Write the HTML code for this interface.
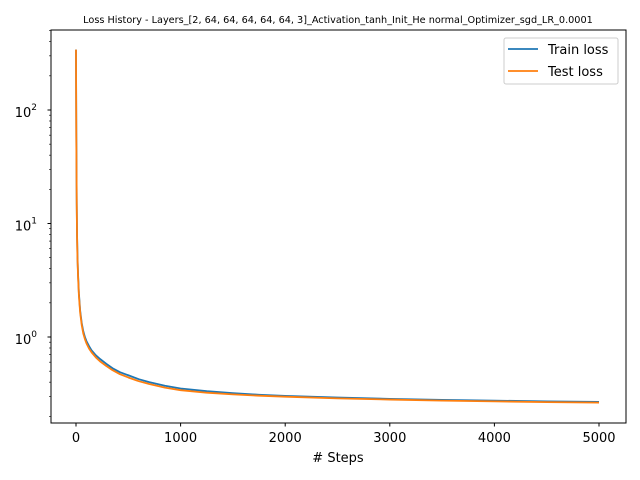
<!DOCTYPE html>
<html><head><meta charset="utf-8"><style>body{margin:0;background:#fff}svg{display:block;font-family:"DejaVu Sans","Liberation Sans",sans-serif}</style></head>
<body>
<svg id="chart" width="640" height="480" xmlns="http://www.w3.org/2000/svg">
<text x="338" y="23" font-size="9.7" text-anchor="middle">Loss History - Layers_[2, 64, 64, 64, 64, 64, 3]_Activation_tanh_Init_He normal_Optimizer_sgd_LR_0.0001</text>
<g id="plot"></g>
<rect x="51" y="30" width="575" height="393" fill="none" stroke="#000" stroke-width="1"/>
<text x="338" y="462" font-size="13" text-anchor="middle"># Steps</text>
<g>
<rect x="504" y="38" width="114" height="46" rx="2" fill="#fff" stroke="#ccc"/>
<line x1="508" y1="49" x2="538" y2="49" stroke="#1f77b4" stroke-width="1.8"/>
<text x="548" y="54" font-size="13">Train loss</text>
<line x1="508" y1="71" x2="538" y2="71" stroke="#ff7f0e" stroke-width="1.8"/>
<text x="548" y="76" font-size="13">Test loss</text>
</g>
</svg>
<script>
const steps=[0,1,2,3,5,7,10,14,20,28,40,55,70,85,100,125,150,190,230,290,350,420,500,600,700,850,1000,1250,1500,1750,2000,2500,3000,3500,4000,4500,5000];
const trainLoss=[340,180,100,60,30,15,8,5.2,3.5,2.4,1.7,1.32,1.12,1.0,0.92,0.83,0.76,0.69,0.64,0.58,0.53,0.49,0.46,0.425,0.40,0.372,0.352,0.333,0.32,0.31,0.303,0.293,0.285,0.279,0.275,0.271,0.268];
const testLoss=[340,175,98,58,29,14.5,7.7,5.0,3.35,2.3,1.63,1.27,1.07,0.96,0.88,0.79,0.73,0.66,0.61,0.555,0.51,0.47,0.44,0.408,0.385,0.358,0.34,0.323,0.312,0.304,0.298,0.288,0.281,0.275,0.271,0.267,0.264];
const xTicks=[0,1000,2000,3000,4000,5000];
const yTicks=[1,10,100];
const yTickLabels=["10","10","10"];
const yTickExp=["0","1","2"];
const NS="http://www.w3.org/2000/svg";
const X=v=>76+v*(523/5000);
const Y=v=>337-Math.log10(v)*113.5;
const g=document.getElementById('plot');
function mk(t,a){const e=document.createElementNS(NS,t);for(const k in a)e.setAttribute(k,a[k]);return e;}
xTicks.forEach(t=>{
 const l=mk('line',{x1:X(t),x2:X(t),y1:423,y2:426.5,stroke:'#000'});
 
 
 g.appendChild(l);
 const tx=mk('text',{x:X(t),y:442,'font-size':13,'text-anchor':'middle'});tx.textContent=t;
 
 
 g.appendChild(tx);
});
yTicks.forEach((t,i)=>{
 const l=mk('line',{x1:47.5,x2:51,y1:Y(t),y2:Y(t),stroke:'#000'});
 
 
 g.appendChild(l);
 const tx=mk('text',{x:37,y:Y(t)+7,'font-size':13,'text-anchor':'end'});tx.textContent=yTickLabels[i];
 
 
 const sp=mk('tspan',{dy:-7,'font-size':9});sp.textContent=yTickExp[i];tx.appendChild(sp);
 g.appendChild(tx);
});
for(let d=-1;d<=2;d++)for(let m=2;m<=9;m++){const v=m*Math.pow(10,d);const y=Y(v);if(y<30||y>423)continue;
 const l=mk('line',{x1:49,x2:51,y1:y,y2:y,stroke:'#000','stroke-width':0.6});
 
 
 g.appendChild(l);}
function series(vals,color,name){
 const p=mk('path',{d:steps.map((s,i)=>(i?'L':'M')+X(s).toFixed(2)+','+Y(vals[i]).toFixed(2)).join(''),fill:'none',stroke:color,'stroke-width':1.8,'stroke-linejoin':'round'});
 
 
 g.appendChild(p);
}
series(trainLoss,'#1f77b4','train-loss-line');
series(testLoss,'#ff7f0e','test-loss-line');
</script>
</body></html>
